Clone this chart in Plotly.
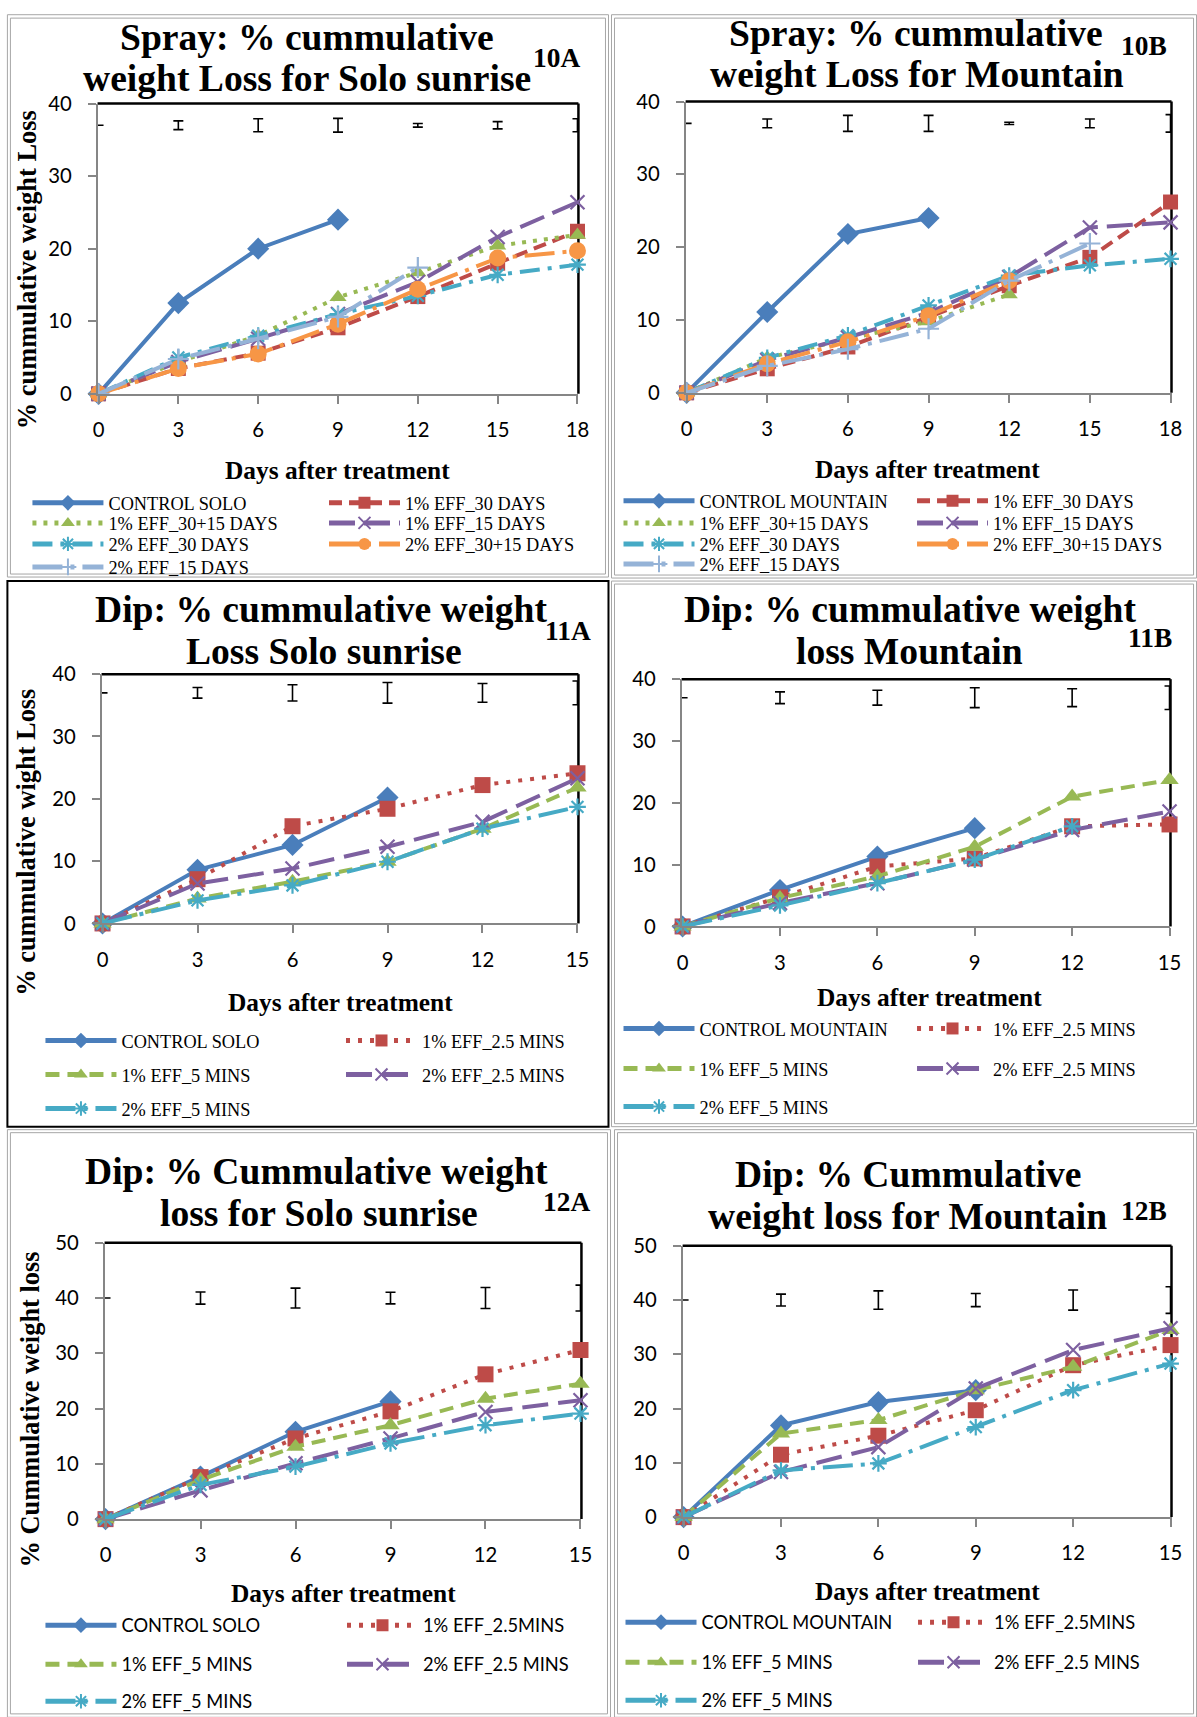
import plotly.graph_objects as go

W, H = 1197, 1717          # target picture size
# measured mapping of the photographed page: picture = A * figure_px + (BX, BY)
A, BX, BY = 0.985, 5.6, 12.6
FW = int(round((W - BX) / A))
FH = int(round((H - BY) / A))

# ---------------- data ----------------
days_spray = [0, 3, 6, 9, 12, 15, 18]
days_dip = [0, 3, 6, 9, 12, 15]
xticks_spray = [0, 3, 6, 9, 12, 15, 18]
xticks_dip = [0, 3, 6, 9, 12, 15]
yticks_40 = [0, 10, 20, 30, 40]
yticks_50 = [0, 10, 20, 30, 40, 50]

names_10A = ["CONTROL SOLO", "1% EFF_30 DAYS", "1% EFF_30+15 DAYS", "1% EFF_15 DAYS",
             "2% EFF_30 DAYS", "2% EFF_30+15 DAYS", "2% EFF_15 DAYS"]
names_10B = ["CONTROL MOUNTAIN", "1% EFF_30 DAYS", "1% EFF_30+15 DAYS", "1% EFF_15 DAYS",
             "2% EFF_30 DAYS", "2% EFF_30+15 DAYS", "2% EFF_15 DAYS"]
names_11A = ["CONTROL SOLO", "1% EFF_2.5 MINS", "1% EFF_5 MINS", "2% EFF_2.5 MINS", "2% EFF_5 MINS"]
names_11B = ["CONTROL MOUNTAIN", "1% EFF_2.5 MINS", "1% EFF_5 MINS", "2% EFF_2.5 MINS", "2% EFF_5 MINS"]
names_12A = ["CONTROL SOLO", "1% EFF_2.5MINS", "1% EFF_5 MINS", "2% EFF_2.5 MINS", "2% EFF_5 MINS"]
names_12B = ["CONTROL MOUNTAIN", "1% EFF_2.5MINS", "1% EFF_5 MINS", "2% EFF_2.5 MINS", "2% EFF_5 MINS"]

# 10A spray, Solo sunrise
control_10A = [0, 12.5, 20.0, 24.0]
eff1_30_10A = [0, 3.5, 5.6, 9.1, 13.4, 18.0, 22.4]
eff1_3015_10A = [0, 4.4, 8.0, 13.3, 16.7, 20.4, 21.9]
eff1_15_10A = [0, 4.4, 7.6, 11.0, 15.4, 21.6, 26.4]
eff2_30_10A = [0, 5.0, 8.0, 11.0, 13.5, 16.4, 17.8]
eff2_3015_10A = [0, 3.5, 5.5, 9.6, 14.4, 18.7, 19.7]
eff2_15_10A = [0, 4.8, 7.6, 10.6, 17.4]
lsd_10A = [0, 0.6, 0.9, 0.95, 0.25, 0.5, 0.9]

# 10B spray, Mountain
control_10B = [0, 11.1, 21.8, 24.0]
eff1_30_10B = [0, 3.3, 6.3, 10.4, 14.7, 18.6, 26.2]
eff1_3015_10B = [0, 4.8, 7.4, 9.8, 13.5]
eff1_15_10B = [0, 4.5, 7.6, 11.0, 15.9, 22.7, 23.4]
eff2_30_10B = [0, 4.8, 7.9, 12.0, 16.1, 17.5, 18.4]
eff2_3015_10B = [0, 4.0, 7.0, 10.6, 15.4]
eff2_15_10B = [0, 3.7, 6.0, 8.8, 15.4, 20.5]
lsd_10B = [0, 0.6, 1.1, 1.1, 0.15, 0.6, 1.2]

# 11A dip, Solo sunrise
control_11A = [0, 8.6, 12.6, 20.2]
eff1_25_11A = [0, 7.1, 15.6, 18.4, 22.2, 24.1]
eff1_5_11A = [0, 4.0, 6.7, 9.9, 15.2, 21.8]
eff2_25_11A = [0, 6.4, 8.8, 12.3, 16.3, 23.3]
eff2_5_11A = [0, 3.7, 6.1, 9.9, 15.2, 18.7]
lsd_11A = [0, 0.85, 1.3, 1.65, 1.5, 1.9]

# 11B dip, Mountain
control_11B = [0, 5.9, 11.3, 15.9]
eff1_25_11B = [0, 4.7, 9.7, 11.0, 16.2, 16.5]
eff1_5_11B = [0, 4.6, 8.1, 12.9, 21.0, 23.7]
eff2_25_11B = [0, 3.8, 7.0, 10.8, 15.6, 18.6]
eff2_5_11B = [0, 3.4, 7.0, 10.8, 16.2]
lsd_11B = [0, 0.95, 1.2, 1.6, 1.45, 1.9]

# 12A dip, Solo sunrise
control_12A = [0, 7.7, 15.8, 21.3]
eff1_25_12A = [0, 7.6, 14.6, 19.5, 26.2, 30.6]
eff1_5_12A = [0, 7.1, 13.1, 17.0, 21.8, 24.5]
eff2_25_12A = [0, 5.2, 10.1, 14.6, 19.4, 21.5]
eff2_5_12A = [0, 6.2, 9.5, 13.7, 17.0, 19.1]
lsd_12A = [0, 1.1, 1.8, 1.05, 1.9, 2.35]

# 12B dip, Mountain
control_12B = [0, 16.9, 21.2, 23.4]
eff1_25_12B = [0, 11.5, 15.0, 19.7, 28.0, 31.7]
eff1_5_12B = [0, 15.4, 17.9, 23.4, 27.7, 34.5]
eff2_25_12B = [0, 8.3, 12.9, 23.7, 30.8, 34.8]
eff2_5_12B = [0, 8.6, 9.9, 16.6, 23.4, 28.3]
lsd_12B = [0, 1.1, 1.7, 1.2, 1.85, 2.45]

lsd_level_40 = 37
lsd_level_50 = 40

# ---------------- styles ----------------
SERIF = "Liberation Serif"
SANS = "Lato"
AXIS_GRAY = "#868686"


def fs(s):
    return round(s / A, 1)


SPRAY_STYLES = [
    dict(color="#4A7EBB", dash="solid", symbol="diamond", size=17),
    dict(color="#BE4B48", dash="13px,7px", symbol="square", size=15),
    dict(color="#98B954", dash="4px,7px", symbol="triangle-up", size=15),
    dict(color="#7D60A0", dash="26px,9px", symbol="x-thin-open", size=14),
    dict(color="#46AAC5", dash="20px,8px,4px,8px", symbol="asterisk-open", size=14),
    dict(color="#F79646", dash="30px,8px,4px,8px", symbol="circle", size=17),
    dict(color="#95B3D7", dash="30px,8px,4px,8px", symbol="cross-thin-open", size=15),
]
DIP_STYLES = [
    dict(color="#4A7EBB", dash="solid", symbol="diamond", size=17),
    dict(color="#BE4B48", dash="4px,8px", symbol="square", size=16),
    dict(color="#98B954", dash="14px,8px", symbol="triangle-up", size=16),
    dict(color="#7D60A0", dash="26px,10px", symbol="x-thin-open", size=14),
    dict(color="#46AAC5", dash="30px,8px,4px,8px", symbol="asterisk-open", size=14),
]

panels = [
    dict(names=names_10A, series=[control_10A, eff1_30_10A, eff1_3015_10A, eff1_15_10A,
                                  eff2_30_10A, eff2_3015_10A, eff2_15_10A],
         days=days_spray, xticks=xticks_spray, yticks=yticks_40, lsd=lsd_10A, lsd_level=lsd_level_40,
         styles=SPRAY_STYLES, rect=(98, 578, 103, 393),
         title=[("Spray: % cummulative", 307, 37), ("weight Loss for Solo sunrise", 307, 78)],
         tag=("10A", 556, 58), xtitle=(338, 469), ytitle=("% cummulative weight Loss", 27, 269),
         leg_cols=(33, 329), leg_rows=(502, 522, 543, 566), leg_font=SERIF),
    dict(names=names_10B, series=[control_10B, eff1_30_10B, eff1_3015_10B, eff1_15_10B,
                                  eff2_30_10B, eff2_3015_10B, eff2_15_10B],
         days=days_spray, xticks=xticks_spray, yticks=yticks_40, lsd=lsd_10B, lsd_level=lsd_level_40,
         styles=SPRAY_STYLES, rect=(685, 1170, 101, 392),
         title=[("Spray: % cummulative", 915, 33), ("weight Loss for Mountain", 916, 74)],
         tag=("10B", 1143, 46), xtitle=(926, 468), ytitle=None,
         leg_cols=(623, 916), leg_rows=(500, 522, 543, 563), leg_font=SERIF),
    dict(names=names_11A, series=[control_11A, eff1_25_11A, eff1_5_11A, eff2_25_11A, eff2_5_11A],
         days=days_dip, xticks=xticks_dip, yticks=yticks_40, lsd=lsd_11A, lsd_level=lsd_level_40,
         styles=DIP_STYLES, rect=(102, 578, 673, 922),
         title=[("Dip: % cummulative weight", 321, 608), ("Loss Solo sunrise", 324, 650)],
         tag=("11A", 568, 630), xtitle=(340, 1000), ytitle=("% cummulative wight Loss", 27, 841),
         leg_cols=(46, 346), leg_rows=(1039, 1073, 1107), leg_font=SERIF),
    dict(names=names_11B, series=[control_11B, eff1_25_11B, eff1_5_11B, eff2_25_11B, eff2_5_11B],
         days=days_dip, xticks=xticks_dip, yticks=yticks_40, lsd=lsd_11B, lsd_level=lsd_level_40,
         styles=DIP_STYLES, rect=(681, 1169, 678, 925),
         title=[("Dip: % cummulative weight", 909, 608), ("loss Mountain", 908, 650)],
         tag=("11B", 1149, 637), xtitle=(928, 995), ytitle=None,
         leg_cols=(623, 916), leg_rows=(1027, 1067, 1105), leg_font=SERIF),
    dict(names=names_12A, series=[control_12A, eff1_25_12A, eff1_5_12A, eff2_25_12A, eff2_5_12A],
         days=days_dip, xticks=xticks_dip, yticks=yticks_50, lsd=lsd_12A, lsd_level=lsd_level_50,
         styles=DIP_STYLES, rect=(105, 581, 1241, 1517),
         title=[("Dip: % Cummulative weight", 317, 1170), ("loss for Solo sunrise", 319, 1212)],
         tag=("12A", 566, 1200), xtitle=(343, 1591), ytitle=("% Cummulative weight loss", 31, 1407),
         leg_cols=(46, 347), leg_rows=(1623, 1662, 1699), leg_font=SANS),
    dict(names=names_12B, series=[control_12B, eff1_25_12B, eff1_5_12B, eff2_25_12B, eff2_5_12B],
         days=days_dip, xticks=xticks_dip, yticks=yticks_50, lsd=lsd_12B, lsd_level=lsd_level_50,
         styles=DIP_STYLES, rect=(682, 1170, 1244, 1515),
         title=[("Dip: % Cummulative", 907, 1173), ("weight loss for Mountain", 906, 1215)],
         tag=("12B", 1143, 1209), xtitle=(926, 1589), ytitle=None,
         leg_cols=(625, 917), leg_rows=(1620, 1660, 1698), leg_font=SANS),
]

frames = [
    dict(rect=(8, 8, 608, 576), color="#A6A6A6", double=True, width=1),
    dict(rect=(611, 5, 1195, 577), color="#A6A6A6", double=True, width=1),
    dict(rect=(8, 580, 608, 1125), color="#000000", double=False, width=2),
    dict(rect=(611, 580, 1195, 1125), color="#A6A6A6", double=True, width=1),
    dict(rect=(8, 1128, 610, 1716), color="#A6A6A6", double=True, width=1),
    dict(rect=(614, 1128, 1195, 1716), color="#A6A6A6", double=True, width=1),
]


def px(x):
    return ((x - BX) / A) / FW


def py(y):
    return 1 - ((y - BY) / A) / FH


fig = go.Figure()
layout = dict(width=FW, height=FH, margin=dict(l=0, r=0, t=0, b=0),
              paper_bgcolor="white", plot_bgcolor="white", showlegend=True)
annotations = []
shapes = []
legend_n = 0

for k, p in enumerate(panels):
    i = k + 1
    xa = "xaxis" if i == 1 else f"xaxis{i}"
    ya = "yaxis" if i == 1 else f"yaxis{i}"
    xr = "x" if i == 1 else f"x{i}"
    yr = "y" if i == 1 else f"y{i}"
    x0, x1, ytop, ybot = p["rect"]
    xmin, xmax = p["xticks"][0], p["xticks"][-1]
    pad = (xmax - xmin) * 0.002
    common = dict(showgrid=False, zeroline=False, showline=True, linecolor=AXIS_GRAY, linewidth=1.5,
                  ticks="outside", tickcolor=AXIS_GRAY, tickwidth=1.5, ticklen=8,
                  tickfont=dict(family=SANS, size=fs(20), color="black"), fixedrange=True)
    layout[xa] = dict(common, domain=[px(x0), px(x1)], anchor=yr, range=[xmin - pad, xmax + pad],
                      tickmode="array", tickvals=p["xticks"], ticklabelstandoff=9)
    layout[ya] = dict(common, domain=[py(ybot), py(ytop)], anchor=xr, range=[p["yticks"][0], p["yticks"][-1]],
                      tickmode="array", tickvals=p["yticks"], ticklabelstandoff=12)
    # black top and right frame of plot area
    shapes.append(dict(type="line", xref=f"{xr} domain", yref=f"{yr} domain", x0=0, x1=1, y0=1, y1=1,
                       line=dict(color="black", width=2.5), layer="below"))
    shapes.append(dict(type="line", xref=f"{xr} domain", yref=f"{yr} domain", x0=1, x1=1, y0=0, y1=1,
                       line=dict(color="black", width=2.5), layer="below"))

    # series
    for j, (name, ys) in enumerate(zip(p["names"], p["series"])):
        st = p["styles"][j]
        legend_n += 1
        lid = "legend" if legend_n == 1 else f"legend{legend_n}"
        open_sym = st["symbol"].endswith("open")
        fig.add_trace(go.Scatter(
            x=p["days"][:len(ys)], y=ys, name=name, mode="lines+markers",
            xaxis=xr, yaxis=yr, legend=lid, cliponaxis=False,
            line=dict(color=st["color"], width=4, dash=st["dash"]),
            marker=dict(symbol=st["symbol"], size=st["size"], color=st["color"],
                        line=dict(color=st["color"], width=2.2 if open_sym else 0)),
        ))
        col = j % 2
        row = j // 2
        layout[lid] = dict(x=px(p["leg_cols"][col] - 5), y=py(p["leg_rows"][row]), xanchor="left",
                           yanchor="middle", orientation="v", bgcolor="rgba(0,0,0,0)", borderwidth=0,
                           font=dict(family=p["leg_font"], size=fs(18), color="black"),
                           itemwidth=71, itemsizing="constant", itemclick=False, itemdoubleclick=False)

    # LSD error bars
    fig.add_trace(go.Scatter(
        x=p["days"], y=[p["lsd_level"]] * len(p["days"]), mode="markers", showlegend=False,
        xaxis=xr, yaxis=yr, cliponaxis=False, hoverinfo="skip",
        marker=dict(size=1, color="rgba(0,0,0,0)"),
        error_y=dict(type="data", array=p["lsd"], visible=True, color="black", thickness=1.6, width=5),
    ))

    # titles
    for text, tx, ty in p["title"]:
        annotations.append(dict(text=f"<b>{text}</b>", x=px(tx), y=py(ty), xref="paper", yref="paper",
                                showarrow=False, xanchor="center", yanchor="middle",
                                font=dict(family=SERIF, size=fs(37), color="black")))
    tg, tx, ty = p["tag"]
    annotations.append(dict(text=f"<b>{tg}</b>", x=px(tx), y=py(ty), xref="paper", yref="paper",
                            showarrow=False, xanchor="center", yanchor="middle",
                            font=dict(family=SERIF, size=fs(27), color="black")))
    tx, ty = p["xtitle"]
    annotations.append(dict(text="<b>Days after treatment</b>", x=px(tx), y=py(ty), xref="paper",
                            yref="paper", showarrow=False, xanchor="center", yanchor="middle",
                            font=dict(family=SERIF, size=fs(25), color="black")))
    if p["ytitle"]:
        t, tx, ty = p["ytitle"]
        annotations.append(dict(text=f"<b>{t}</b>", x=px(tx), y=py(ty), xref="paper", yref="paper",
                                showarrow=False, xanchor="center", yanchor="middle", textangle=-90,
                                font=dict(family=SERIF, size=fs(26), color="black")))

# panel frames
for f in frames:
    fx0, fy0, fx1, fy1 = f["rect"]
    shapes.append(dict(type="rect", xref="paper", yref="paper",
                       x0=max(px(fx0), 0.001), x1=min(px(fx1), 0.999),
                       y0=max(py(fy1), 0.001), y1=min(py(fy0), 0.999),
                       line=dict(color=f["color"], width=f["width"]),
                       fillcolor="rgba(0,0,0,0)", layer="below"))
    if f["double"]:
        shapes.append(dict(type="rect", xref="paper", yref="paper",
                           x0=max(px(fx0 + 3), 0.003), x1=min(px(fx1 - 3), 0.997),
                           y0=max(py(fy1 - 3), 0.003), y1=min(py(fy0 + 3), 0.997),
                           line=dict(color=f["color"], width=1),
                           fillcolor="rgba(0,0,0,0)", layer="below"))

layout["annotations"] = annotations
layout["shapes"] = shapes
fig.update_layout(**layout)
fig.write_html("out.html")
